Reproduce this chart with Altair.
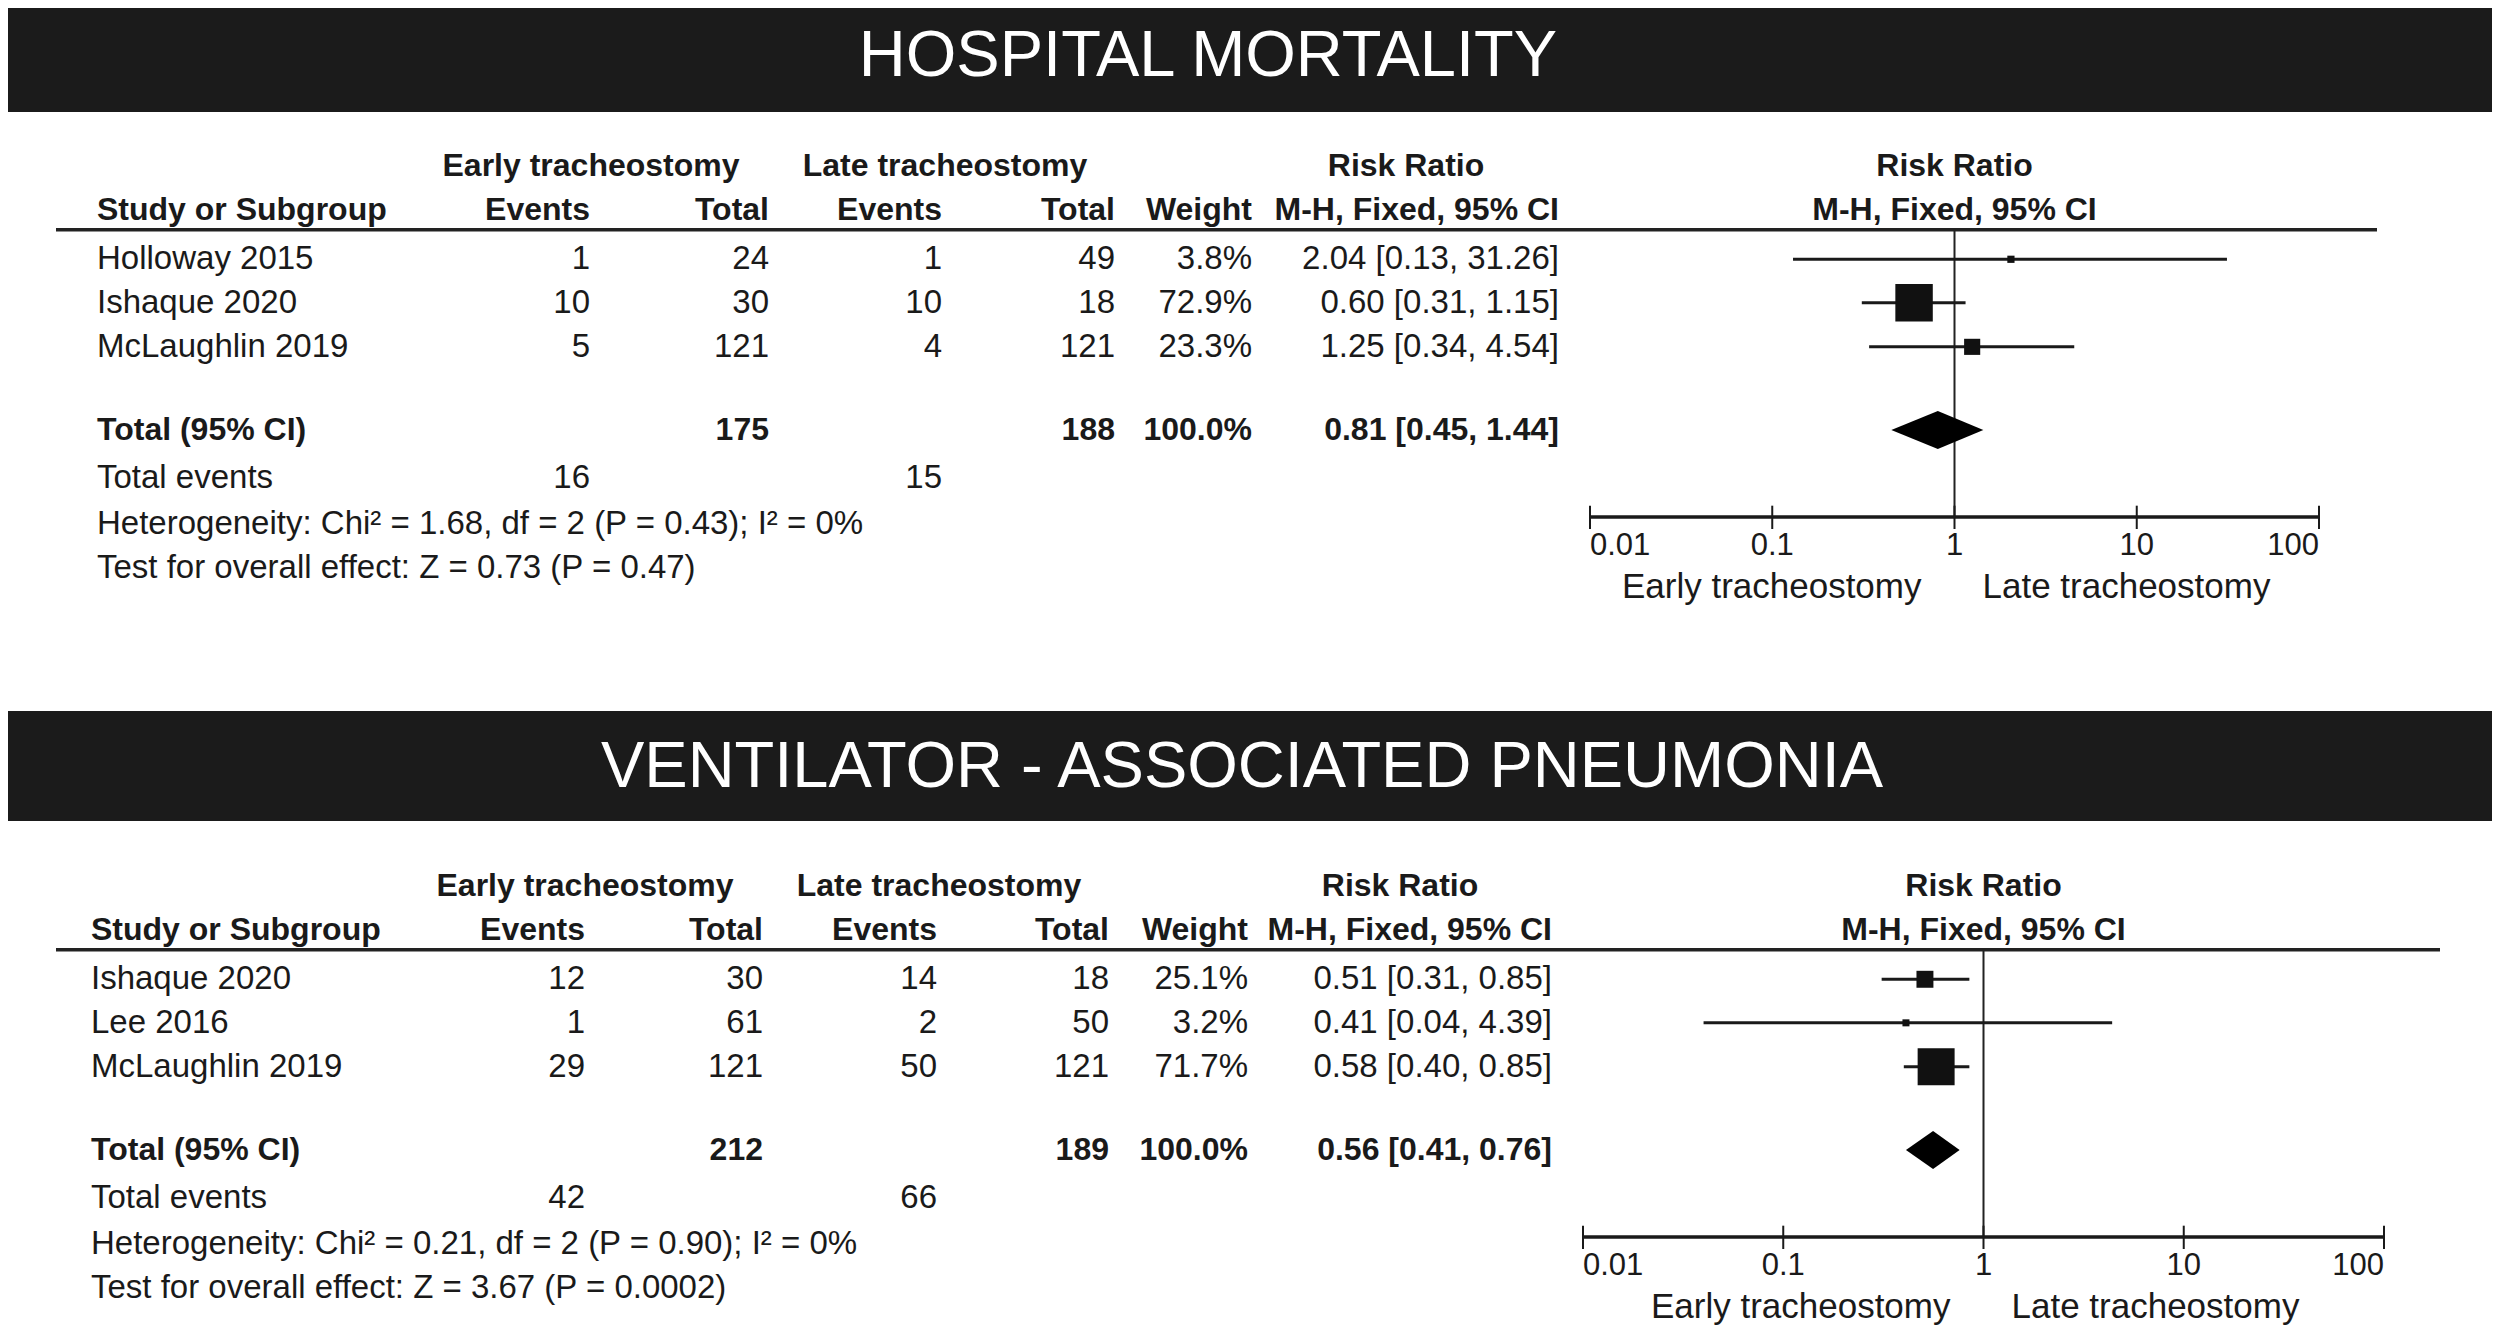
import altair as alt
import pandas as pd

# ---------------- data ----------------
titles = ["HOSPITAL MORTALITY", "VENTILATOR - ASSOCIATED PNEUMONIA"]

studies1 = ["Holloway 2015", "Ishaque 2020", "McLaughlin 2019"]
early_events1 = [1, 10, 5]
early_total1 = [24, 30, 121]
late_events1 = [1, 10, 4]
late_total1 = [49, 18, 121]
weight1 = [3.8, 72.9, 23.3]
rr1 = [2.04, 0.60, 1.25]
lo1 = [0.13, 0.31, 0.34]
hi1 = [31.26, 1.15, 4.54]
tot1 = {"early_total": 175, "late_total": 188, "weight": 100.0,
        "rr": 0.81, "lo": 0.45, "hi": 1.44, "early_events": 16, "late_events": 15}
het1 = "Heterogeneity: Chi\u00b2 = 1.68, df = 2 (P = 0.43); I\u00b2 = 0%"
test1 = "Test for overall effect: Z = 0.73 (P = 0.47)"

studies2 = ["Ishaque 2020", "Lee 2016", "McLaughlin 2019"]
early_events2 = [12, 1, 29]
early_total2 = [30, 61, 121]
late_events2 = [14, 2, 50]
late_total2 = [18, 50, 121]
weight2 = [25.1, 3.2, 71.7]
rr2 = [0.51, 0.41, 0.58]
lo2 = [0.31, 0.04, 0.40]
hi2 = [0.85, 4.39, 0.85]
tot2 = {"early_total": 212, "late_total": 189, "weight": 100.0,
        "rr": 0.56, "lo": 0.41, "hi": 0.76, "early_events": 42, "late_events": 66}
het2 = "Heterogeneity: Chi\u00b2 = 0.21, df = 2 (P = 0.90); I\u00b2 = 0%"
test2 = "Test for overall effect: Z = 3.67 (P = 0.0002)"

tick_values = [0.01, 0.1, 1, 10, 100]
tick_labels = ["0.01", "0.1", "1", "10", "100"]
group_labels = ["Early tracheostomy", "Late tracheostomy"]

# ---------------- layout / style ----------------
W = 2484
FONT = "Liberation Sans"
TXT = "#1a1a1a"
BAR = "#1b1b1b"
STEP = 44
SLOT = dict(h1=0, h2=1, line=1.45, r=[2.12, 3.11, 4.11], total=6.0, tev=7.09,
            het=8.13, test=9.14, axis=7.98, ticklab=8.63, dirlab=9.56)

LAYOUTS = [
    dict(height=703, bar_h=104, title_x=1200, title_y=48, top=158,
         forest=[1582, 2311], line_x=[48, 2369],
         cols=dict(study=(89, "left"), ee=(582, "right"), et=(761, "right"),
                   le=(934, "right"), lt=(1107, "right"), w=(1244, "right"),
                   rr=(1551, "right"), ge=(583, "center"), gl=(937, "center"),
                   rh=(1398, "center"))),
    dict(height=610, bar_h=110, title_x=1234, title_y=56, top=175,
         forest=[1575, 2376], line_x=[48, 2432],
         cols=dict(study=(83, "left"), ee=(577, "right"), et=(755, "right"),
                   le=(929, "right"), lt=(1101, "right"), w=(1240, "right"),
                   rr=(1544, "right"), ge=(577, "center"), gl=(931, "center"),
                   rh=(1392, "center"))),
]


def fmt_ci(r, l, h):
    return f"{r:.2f} [{l:.2f}, {h:.2f}]"


def build_panel(title, lay, studies, ee, et, le, lt, wt, rr, lo, hi, tot, het, test):
    ys = alt.Scale(domain=[0, 10], range=[lay["top"], lay["top"] + 10 * STEP],
                   nice=False, zero=False)
    xs = alt.Scale(type="log", domain=[0.01, 100], range=lay["forest"], nice=False)

    def Y(f):
        return alt.Y(f, type="quantitative", scale=ys, axis=None)

    def X(f):
        return alt.X(f, type="quantitative", scale=xs, axis=None)

    # ---- table cells ----
    cells = []

    def add(col, text, slot, bold):
        cells.append(dict(col=col, text=str(text), slot=slot, bold=bold))

    add("ge", group_labels[0], SLOT["h1"], True)
    add("gl", group_labels[1], SLOT["h1"], True)
    add("rh", "Risk Ratio", SLOT["h1"], True)
    for c, t in [("study", "Study or Subgroup"), ("ee", "Events"), ("et", "Total"),
                 ("le", "Events"), ("lt", "Total"), ("w", "Weight"),
                 ("rr", "M-H, Fixed, 95% CI")]:
        add(c, t, SLOT["h2"], True)
    for i, s in enumerate(studies):
        sl = SLOT["r"][i]
        add("study", s, sl, False)
        add("ee", ee[i], sl, False)
        add("et", et[i], sl, False)
        add("le", le[i], sl, False)
        add("lt", lt[i], sl, False)
        add("w", f"{wt[i]:.1f}%", sl, False)
        add("rr", fmt_ci(rr[i], lo[i], hi[i]), sl, False)
    add("study", "Total (95% CI)", SLOT["total"], True)
    add("et", tot["early_total"], SLOT["total"], True)
    add("lt", tot["late_total"], SLOT["total"], True)
    add("w", f"{tot['weight']:.1f}%", SLOT["total"], True)
    add("rr", fmt_ci(tot["rr"], tot["lo"], tot["hi"]), SLOT["total"], True)
    add("study", "Total events", SLOT["tev"], False)
    add("ee", tot["early_events"], SLOT["tev"], False)
    add("le", tot["late_events"], SLOT["tev"], False)
    add("study", het, SLOT["het"], False)
    add("study", test, SLOT["test"], False)
    cdf = pd.DataFrame(cells)

    layers = []
    # title bar
    layers.append(alt.Chart(pd.DataFrame({"a": [0]})).mark_rect(color=BAR).encode(
        x=alt.value(0), x2=alt.value(W), y=alt.value(0), y2=alt.value(lay["bar_h"])))
    layers.append(alt.Chart(pd.DataFrame({"t": [title]})).mark_text(
        font=FONT, fontSize=65, color="white", align="center", baseline="middle").encode(
        x=alt.value(lay["title_x"]), y=alt.value(lay["title_y"]), text="t:N"))

    # header line
    layers.append(alt.Chart(pd.DataFrame({"slot": [SLOT["line"]]})).mark_rule(
        color="#222222", strokeWidth=3.5).encode(
        x=alt.value(lay["line_x"][0]), x2=alt.value(lay["line_x"][1]), y=Y("slot")))

    for col, (xpx, align) in lay["cols"].items():
        for bold in (False, True):
            sub = cdf[(cdf.col == col) & (cdf.bold == bold)]
            if len(sub) == 0:
                continue
            layers.append(alt.Chart(sub).mark_text(
                font=FONT, fontSize=32 if bold else 33,
                fontWeight="bold" if bold else "normal",
                color=TXT, align=align, baseline="middle").encode(
                x=alt.value(xpx), y=Y("slot"), text="text:N"))

    # ---- forest plot ----
    fh = pd.DataFrame({"v": [1, 1], "slot": [SLOT["h1"], SLOT["h2"]],
                       "text": ["Risk Ratio", "M-H, Fixed, 95% CI"]})
    layers.append(alt.Chart(fh).mark_text(
        font=FONT, fontSize=32, fontWeight="bold", color=TXT, align="center",
        baseline="middle").encode(x=X("v"), y=Y("slot"), text="text:N"))

    # vertical line of no effect
    layers.append(alt.Chart(pd.DataFrame({"v": [1], "s1": [SLOT["line"]], "s2": [SLOT["axis"]]}))
                  .mark_rule(color="#222222", strokeWidth=2).encode(
        x=X("v"), y=Y("s1"), y2="s2:Q"))

    sdf = pd.DataFrame({"rr": rr, "lo": lo, "hi": hi, "w": wt, "slot": SLOT["r"]})
    layers.append(alt.Chart(sdf).mark_rule(color="#1a1a1a", strokeWidth=3).encode(
        x=X("lo"), x2="hi:Q", y=Y("slot")))
    layers.append(alt.Chart(sdf).mark_square(color="#111111", opacity=1, strokeWidth=0).encode(
        x=X("rr"), y=Y("slot"),
        size=alt.Size("w:Q", scale=alt.Scale(type="pow", exponent=1.6, domain=[0, 100],
                                              range=[40, 2300]), legend=None)))

    # pooled diamond
    st = SLOT["total"]
    half = 0.43
    ddf = pd.DataFrame({"v": [tot["lo"], tot["rr"], tot["hi"]],
                        "y1": [st, st - half, st], "y2": [st, st + half, st]})
    layers.append(alt.Chart(ddf).mark_area(color="#000000", opacity=1).encode(
        x=X("v"), y=Y("y1"), y2="y2:Q"))

    # axis
    layers.append(alt.Chart(pd.DataFrame({"a": [tick_values[0]], "b": [tick_values[-1]],
                                          "slot": [SLOT["axis"]]}))
                  .mark_rule(color="#1a1a1a", strokeWidth=3.5).encode(
        x=X("a"), x2="b:Q", y=Y("slot")))
    tdf = pd.DataFrame({"v": tick_values, "label": tick_labels,
                        "s1": [SLOT["axis"] - 0.26] * 5, "s2": [SLOT["axis"] + 0.27] * 5,
                        "sl": [SLOT["ticklab"]] * 5, "i": list(range(5))})
    layers.append(alt.Chart(tdf).mark_rule(color="#1a1a1a", strokeWidth=2).encode(
        x=X("v"), y=Y("s1"), y2="s2:Q"))
    for cond, align in [("datum.i == 0", "left"), ("datum.i > 0 && datum.i < 4", "center"),
                        ("datum.i == 4", "right")]:
        layers.append(alt.Chart(tdf).transform_filter(cond).mark_text(
            font=FONT, fontSize=31, color=TXT, align=align, baseline="middle").encode(
            x=X("v"), y=Y("sl"), text="label:N"))

    # direction labels
    dl = pd.DataFrame({"v": [1], "slot": [SLOT["dirlab"]]})
    layers.append(alt.Chart(dl).mark_text(
        font=FONT, fontSize=35, color=TXT, align="right", baseline="middle", dx=-33,
        text=group_labels[0]).encode(x=X("v"), y=Y("slot")))
    layers.append(alt.Chart(dl).mark_text(
        font=FONT, fontSize=35, color=TXT, align="left", baseline="middle", dx=28,
        text=group_labels[1]).encode(x=X("v"), y=Y("slot")))

    return alt.layer(*layers).properties(width=W, height=lay["height"])


p1 = build_panel(titles[0], LAYOUTS[0], studies1, early_events1, early_total1, late_events1,
                 late_total1, weight1, rr1, lo1, hi1, tot1, het1, test1)
p2 = build_panel(titles[1], LAYOUTS[1], studies2, early_events2, early_total2, late_events2,
                 late_total2, weight2, rr2, lo2, hi2, tot2, het2, test2)

chart = alt.vconcat(p1, p2, spacing=0, bounds="flush").properties(
    padding=0, background="white"
).configure_view(stroke=None)

chart.save("out.html", embed_options={"renderer": "svg", "actions": False})
